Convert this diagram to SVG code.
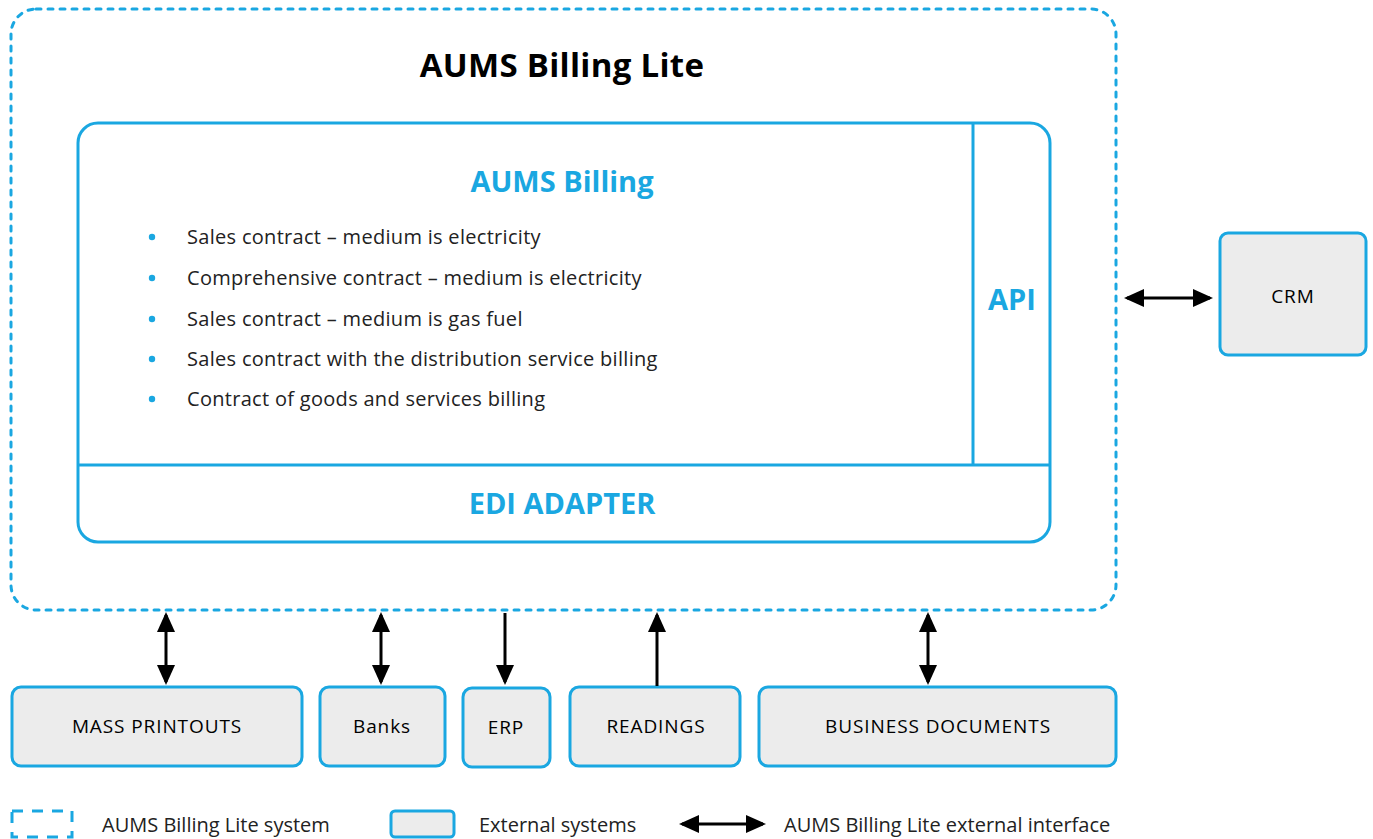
<svg xmlns="http://www.w3.org/2000/svg" width="1373" height="839" viewBox="0 0 1373 839">
<style>
.blue{stroke:#1AA7E1;fill:none;stroke-width:3}
.dotted{stroke:#1AA7E1;fill:none;stroke-width:3;stroke-dasharray:5 7;stroke-linecap:round}
.ext{stroke:#1AA7E1;fill:#ECECEC;stroke-width:3}
.conn{stroke:#000;stroke-width:3;fill:none}
.t{font-family:"Open Sans","Liberation Sans",sans-serif}
.title{font-size:33px;font-weight:bold;fill:#000;letter-spacing:0.3px}
.hdr{font-size:29px;font-weight:bold;fill:#1AA7E1}
.item{font-size:20px;fill:#222;letter-spacing:0.3px}
.lbl{font-size:19px;fill:#000;letter-spacing:0.9px}
.leg{font-size:20px;fill:#222}
</style>
<defs>
<marker id="ah" markerUnits="userSpaceOnUse" markerWidth="22" markerHeight="20" refX="17" refY="9" orient="auto-start-reverse" viewBox="0 0 22 20">
<path d="M0,0 L20,9 L0,18 z" fill="#000"/>
</marker>
</defs>
<rect width="1373" height="839" fill="#fff"/>
<g id="billing-lite">
<rect class="dotted" x="11" y="9" width="1105" height="601" rx="25"/>
<text class="t title" x="562" y="77" text-anchor="middle">AUMS Billing Lite</text>
</g>
<g id="aums-billing">
<rect class="blue" x="78" y="123" width="972" height="419" rx="20"/>
<line class="blue" x1="973" y1="123" x2="973" y2="465"/>
<line class="blue" x1="78" y1="465" x2="1050" y2="465"/>
<text class="t hdr" x="562" y="192" text-anchor="middle">AUMS Billing</text>
<g fill="#1AA7E1">
<circle cx="152" cy="237" r="3.2"/>
<circle cx="152" cy="278" r="3.2"/>
<circle cx="152" cy="319" r="3.2"/>
<circle cx="152" cy="359" r="3.2"/>
<circle cx="152" cy="399" r="3.2"/>
</g>
<text class="t item" x="187" y="244">Sales contract – medium is electricity</text>
<text class="t item" x="187" y="285">Comprehensive contract – medium is electricity</text>
<text class="t item" x="187" y="326">Sales contract – medium is gas fuel</text>
<text class="t item" x="187" y="366">Sales contract with the distribution service billing</text>
<text class="t item" x="187" y="406">Contract of goods and services billing</text>
</g>
<g id="api">
<text class="t hdr" x="1012" y="310" text-anchor="middle" font-size="28">API</text>
</g>
<g id="edi-adapter">
<text class="t hdr" x="562" y="514" text-anchor="middle">EDI ADAPTER</text>
</g>
<g id="crm">
<rect class="ext" x="1220" y="233" width="146" height="122" rx="8"/>
<text class="t lbl" x="1293" y="303" text-anchor="middle">CRM</text>
</g>
<g id="mass-printouts">
<rect class="ext" x="12" y="687" width="290" height="79" rx="9"/>
<text class="t lbl" x="157" y="733" text-anchor="middle">MASS PRINTOUTS</text>
</g>
<g id="banks">
<rect class="ext" x="320" y="687" width="125" height="79" rx="9"/>
<text class="t lbl" x="382" y="733" text-anchor="middle">Banks</text>
</g>
<g id="erp">
<rect class="ext" x="463" y="688" width="87" height="79" rx="9"/>
<text class="t lbl" x="506" y="734" text-anchor="middle">ERP</text>
</g>
<g id="readings">
<rect class="ext" x="570" y="687" width="170" height="79" rx="9"/>
<text class="t lbl" x="656" y="733" text-anchor="middle">READINGS</text>
</g>
<g id="business-documents">
<rect class="ext" x="759" y="687" width="357" height="79" rx="9"/>
<text class="t lbl" x="938" y="733" text-anchor="middle">BUSINESS DOCUMENTS</text>
</g>
<g id="connectors">
<line class="conn" x1="1127" y1="298" x2="1210" y2="298" marker-start="url(#ah)" marker-end="url(#ah)"/>
<line class="conn" x1="166" y1="615" x2="166" y2="682" marker-start="url(#ah)" marker-end="url(#ah)"/>
<line class="conn" x1="381" y1="615" x2="381" y2="682" marker-start="url(#ah)" marker-end="url(#ah)"/>
<line class="conn" x1="505" y1="613" x2="505" y2="682" marker-end="url(#ah)"/>
<line class="conn" x1="657" y1="615" x2="657" y2="686" marker-start="url(#ah)"/>
<line class="conn" x1="928" y1="615" x2="928" y2="682" marker-start="url(#ah)" marker-end="url(#ah)"/>
</g>
<g id="legend">
<rect x="12" y="811" width="60" height="26" fill="none" stroke="#1AA7E1" stroke-width="3" stroke-dasharray="11 9"/>
<text class="t leg" x="102" y="832">AUMS Billing Lite system</text>
<rect class="ext" x="391" y="811" width="63" height="26" rx="4"/>
<text class="t leg" x="479" y="832">External systems</text>
<line class="conn" x1="682" y1="824" x2="763" y2="824" marker-start="url(#ah)" marker-end="url(#ah)"/>
<text class="t leg" x="784" y="832">AUMS Billing Lite external interface</text>
</g>
</svg>
